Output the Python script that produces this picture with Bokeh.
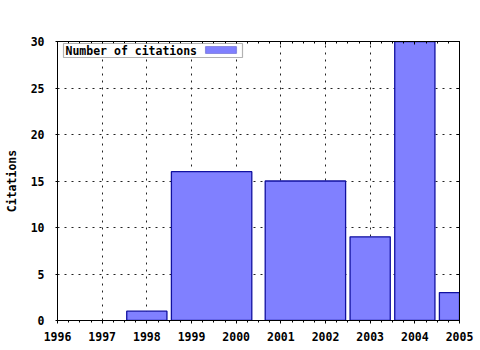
from bokeh.plotting import figure
from bokeh.models import (Range1d, LinearAxis, SingleIntervalTicker, CustomJSTickFormatter,
                          Label, BoxAnnotation)
from bokeh.embed import file_html
from bokeh.resources import INLINE

# Data
bar_centers = [1998, 1999.45, 2001.55, 2003, 2004, 2005]
bar_widths = [0.9, 1.8, 1.8, 0.9, 0.9, 0.9]
citations = [1, 16, 15, 9, 30, 3]
series_name = "Number of citations"
y_label = "Citations"

FONT = "DejaVu Sans Mono"
FS = "11.5px"
FILL = "#8080ff"
EDGE = "#1010a0"

p = figure(width=480, height=350, x_range=Range1d(1996, 2005), y_range=Range1d(0, 30),
           output_backend="svg", toolbar_location=None,
           min_border_left=57, min_border_right=21, min_border_top=41, min_border_bottom=30,
           x_axis_location=None, y_axis_location=None)
p.outline_line_color = "black"
p.outline_line_width = 1
p.background_fill_color = "white"
p.border_fill_color = "white"

xt = SingleIntervalTicker(interval=1, num_minor_ticks=4)
yt = SingleIntervalTicker(interval=5, num_minor_ticks=0)

def style(ax, labels=True, tin=0, tout=3, mtin=0, mtout=2):
    ax.axis_line_color = "black"
    ax.major_tick_line_color = "black"
    ax.minor_tick_line_color = "black"
    ax.major_tick_in = tin
    ax.major_tick_out = tout
    ax.minor_tick_in = mtin
    ax.minor_tick_out = mtout
    ax.major_label_text_font = FONT
    ax.major_label_text_font_size = FS
    ax.major_label_text_font_style = "bold"
    ax.major_label_text_color = "black"
    if not labels:
        ax.formatter = CustomJSTickFormatter(code="return ''")

bx = LinearAxis(ticker=xt)
style(bx, tin=0, tout=3, mtin=0, mtout=2)
bx.major_label_standoff = 8
p.add_layout(bx, "below")

ly = LinearAxis(ticker=yt, axis_label=y_label)
style(ly, tin=0, tout=2, mtin=0, mtout=0)
ly.major_label_standoff = 11
ly.axis_label_text_font = FONT
ly.axis_label_text_font_size = FS
ly.axis_label_text_font_style = "bold"
ly.axis_label_text_color = "black"
ly.axis_label_standoff = 9
p.add_layout(ly, "left")

tx = LinearAxis(ticker=xt)
style(tx, labels=False, tin=3, tout=0, mtin=2, mtout=0)
tx.major_label_standoff = 0
p.add_layout(tx, "above")

ry = LinearAxis(ticker=yt)
style(ry, labels=False, tin=3, tout=0, mtin=0, mtout=0)
ry.major_label_standoff = 0
p.add_layout(ry, "right")

p.xgrid.ticker = xt
p.ygrid.ticker = yt
for g in (p.xgrid, p.ygrid):
    g.grid_line_color = "#222222"
    g.grid_line_dash = "2 5"
    g.grid_line_width = 1

p.vbar(x=bar_centers, width=bar_widths, top=citations, bottom=0,
       fill_color=FILL, line_color=EDGE, line_width=1.3)

# Legend (gnuplot style: text then swatch, boxed)
p.add_layout(BoxAnnotation(left=6, right=185, bottom=263, top=277,
                           left_units="screen", right_units="screen",
                           bottom_units="screen", top_units="screen",
                           fill_color="white", fill_alpha=1,
                           line_color="black", line_width=1.2, level="overlay"))
p.add_layout(Label(x=8, y=270, x_units="screen", y_units="screen", text=series_name,
                   text_font=FONT, text_font_size=FS, text_font_style="bold",
                   text_color="black", text_baseline="middle", level="overlay"))
p.add_layout(BoxAnnotation(left=148, right=179, bottom=267, top=274,
                           left_units="screen", right_units="screen",
                           bottom_units="screen", top_units="screen",
                           fill_color=FILL, fill_alpha=1,
                           line_color=EDGE, line_width=1.2, level="overlay"))

open("out.html", "w").write(file_html(p, INLINE))
